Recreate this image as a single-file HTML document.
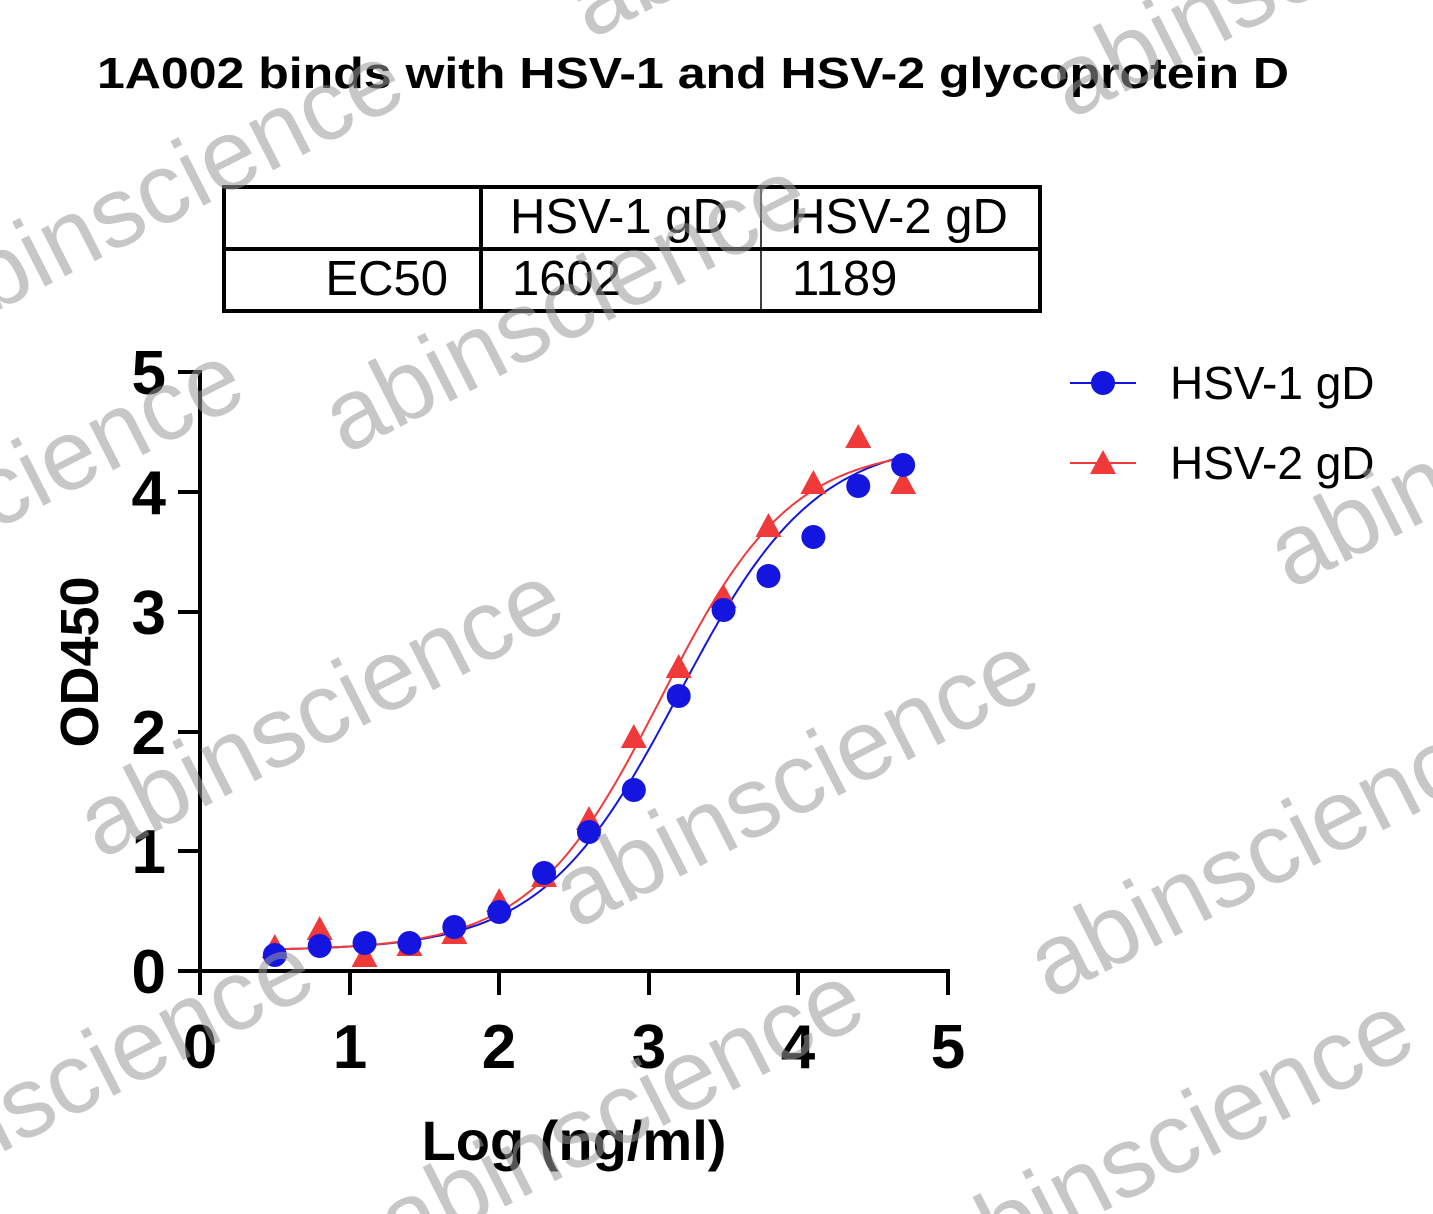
<!DOCTYPE html>
<html><head><meta charset="utf-8"><style>
html,body{margin:0;background:#fff;overflow:hidden;width:1433px;height:1214px;}
svg{display:block;font-family:"Liberation Sans",Arial,sans-serif;}
</style></head><body>
<svg id="s" width="1433" height="1214" viewBox="0 0 1433 1214" xmlns="http://www.w3.org/2000/svg">
<rect width="1433" height="1214" fill="#fff"/>
<text x="97" y="88" font-size="44" font-weight="bold" textLength="1192" lengthAdjust="spacingAndGlyphs">1A002 binds with HSV-1 and HSV-2 glycoprotein  D</text>
<rect x="224" y="187" width="816" height="124" fill="none" stroke="#000" stroke-width="4"/>
<line x1="224" y1="249" x2="1040" y2="249" stroke="#000" stroke-width="4"/>
<line x1="481" y1="187" x2="481" y2="311" stroke="#000" stroke-width="4"/>
<line x1="761" y1="187" x2="761" y2="311" stroke="#000" stroke-width="1.5"/>
<g font-size="49">
<text x="510" y="233">HSV-1 gD</text><text x="790" y="233">HSV-2 gD</text>
<text x="448" y="295" text-anchor="end">EC50</text>
<text x="512" y="295">1602</text><text x="792" y="295">1189</text>
</g>
<g stroke="#000" stroke-width="4" fill="none">
<line x1="200" y1="370" x2="200" y2="973"/>
<line x1="198" y1="971" x2="950" y2="971"/>
<line x1="178" y1="372" x2="200" y2="372"/><line x1="178" y1="492" x2="200" y2="492"/>
<line x1="178" y1="612" x2="200" y2="612"/><line x1="178" y1="732" x2="200" y2="732"/>
<line x1="178" y1="851" x2="200" y2="851"/><line x1="178" y1="971" x2="200" y2="971"/>
<line x1="200" y1="971" x2="200" y2="995"/><line x1="350" y1="971" x2="350" y2="995"/>
<line x1="499" y1="971" x2="499" y2="995"/><line x1="649" y1="971" x2="649" y2="995"/>
<line x1="798" y1="971" x2="798" y2="995"/><line x1="948" y1="971" x2="948" y2="995"/>
</g>
<g font-size="62" font-weight="bold" text-anchor="end">
<text x="166" y="394">5</text><text x="166" y="514">4</text><text x="166" y="634">3</text>
<text x="166" y="754">2</text><text x="166" y="873">1</text><text x="166" y="993">0</text>
</g>
<g font-size="62" font-weight="bold" text-anchor="middle">
<text x="200" y="1068">0</text><text x="350" y="1068">1</text><text x="499" y="1068">2</text>
<text x="649" y="1068">3</text><text x="798" y="1068">4</text><text x="948" y="1068">5</text>
</g>
<text x="574" y="1160" font-size="56" font-weight="bold" text-anchor="middle">Log (ng/ml)</text>
<text transform="translate(98,662) rotate(-90)" font-size="54" font-weight="bold" text-anchor="middle">OD450</text>
<g id="plot"></g>
<line x1="1070" y1="383" x2="1136" y2="383" stroke="#1515e0" stroke-width="2"/>
<circle cx="1103" cy="383" r="12" fill="#1515e0"/>
<text x="1170" y="399" font-size="46">HSV-1 gD</text>
<line x1="1070" y1="463" x2="1136" y2="463" stroke="#f03a3a" stroke-width="2"/>
<polygon points="1103,450 1116,474 1090,474" fill="#f03a3a"/>
<text x="1170" y="479" font-size="46">HSV-2 gD</text>
<g font-size="100" fill="#999" fill-opacity="0.55">
<text transform="translate(590,40) rotate(-27)">abinscience</text>
<text transform="translate(-60,340) rotate(-27)">abinscience</text>
<text transform="translate(345,455) rotate(-27)">abinscience</text>
<text transform="translate(100,860) rotate(-27)">abinscience</text>
<text transform="translate(575,930) rotate(-27)">abinscience</text>
<text transform="translate(1050,1000) rotate(-27)">abinscience</text>
<text transform="translate(1290,590) rotate(-27)">abinscience</text>
<text transform="translate(-220,640) rotate(-27)">abinscience</text>
<text transform="translate(-150,1230) rotate(-27)">abinscience</text>
<text transform="translate(400,1260) rotate(-27)">abinscience</text>
<text transform="translate(950,1290) rotate(-27)">abinscience</text>
<text transform="translate(1070,120) rotate(-27)">abinscience</text>
</g>
</svg>
<script>
(function(){
var g=document.getElementById('plot'),NS='http://www.w3.org/2000/svg';
function X(x){return 200+x*149.6;}function Y(y){return 971-y*119.8;}
function f(x,b,t,c,h){return b+(t-b)/(1+Math.pow(10,(c-x)*h));}
function curve(b,t,c,h,col){var d='';for(var x=0.5;x<=4.701;x+=0.02){d+=(d?'L':'M')+X(x).toFixed(1)+','+Y(f(x,b,t,c,h)).toFixed(1);}
var p=document.createElementNS(NS,'path');p.setAttribute('d',d);p.setAttribute('fill','none');p.setAttribute('stroke',col);p.setAttribute('stroke-width','2');g.appendChild(p);}
curve(0.17,4.45,3.2,0.95,'#1515e0');
curve(0.17,4.38,3.08,1.0,'#f03a3a');
var xs=[0.5,0.8,1.1,1.4,1.7,2.0,2.3,2.6,2.9,3.2,3.5,3.8,4.1,4.4,4.7];
var ry=[948,930,957,946,934,902,877,820,738,668,598,527,484,438,484];
var by=[955,946,943,943,927,912,873,832,790,696,610,576,537,486,465];
xs.forEach(function(x,i){var cx=X(x),cy=ry[i];var p=document.createElementNS(NS,'polygon');
p.setAttribute('points',cx+','+(cy-14)+' '+(cx+13)+','+(cy+10)+' '+(cx-13)+','+(cy+10));p.setAttribute('fill','#f03a3a');g.appendChild(p);});
xs.forEach(function(x,i){var c=document.createElementNS(NS,'circle');c.setAttribute('cx',X(x));c.setAttribute('cy',by[i]);c.setAttribute('r',12);c.setAttribute('fill','#1515e0');g.appendChild(c);});
})();
</script>
</body></html>
